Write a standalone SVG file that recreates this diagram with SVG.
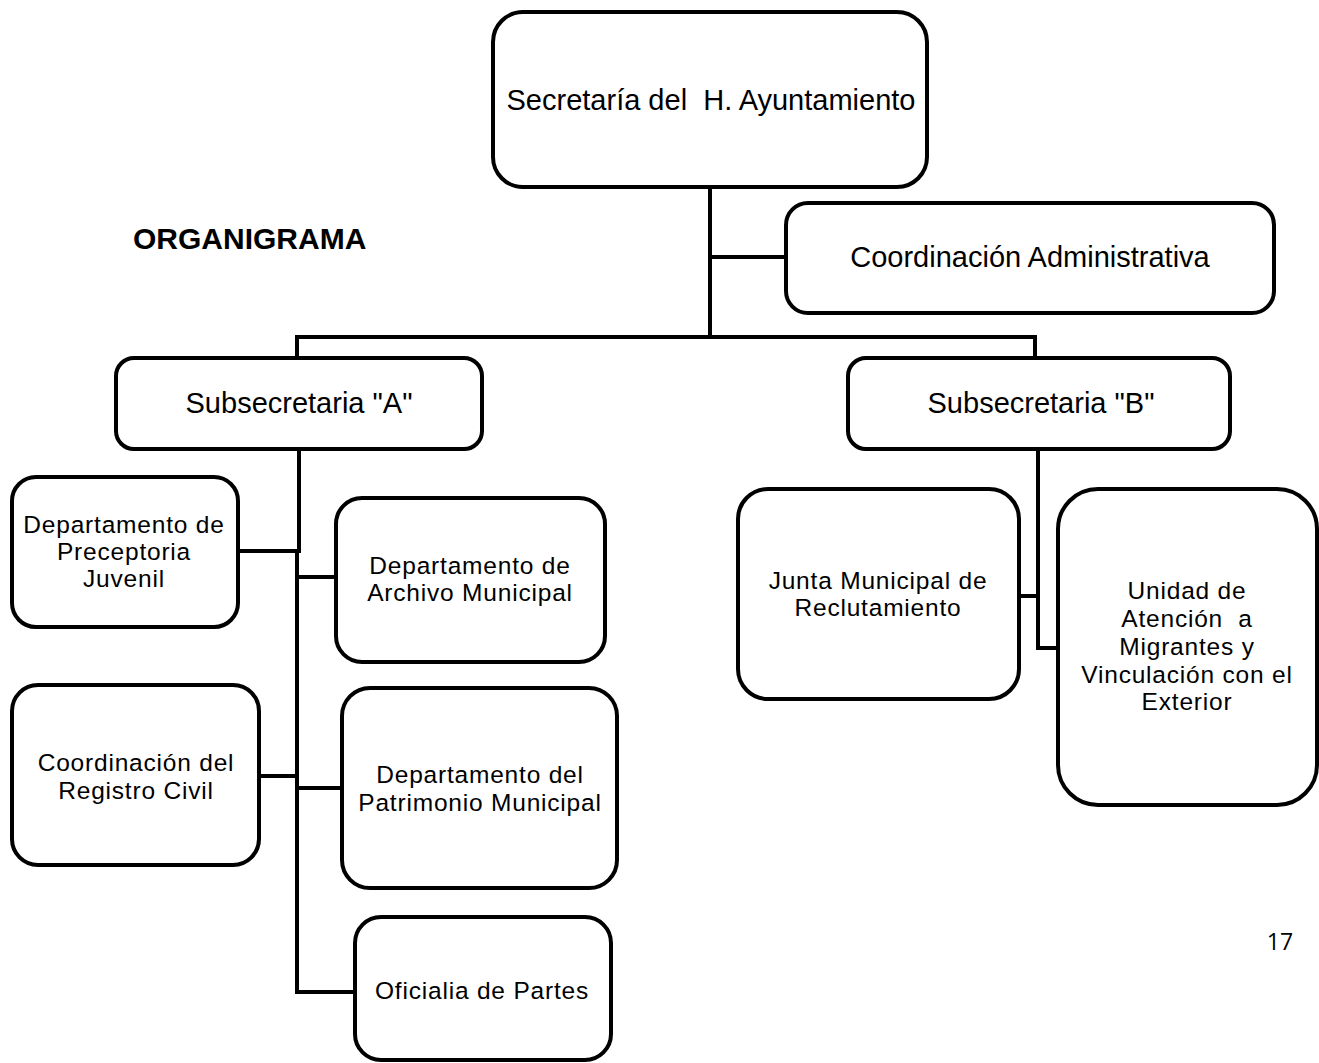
<svg xmlns="http://www.w3.org/2000/svg" width="1319" height="1063" viewBox="0 0 1319 1063">
<style>
.box{fill:#fff;stroke:#000;stroke-width:4}
.ln{fill:none;stroke:#000;stroke-width:4;stroke-linecap:square}
text{font-family:"Liberation Sans",Arial,sans-serif;fill:#000;text-anchor:middle;white-space:pre}
.big{font-size:29px}
.sm{font-size:24.5px;letter-spacing:0.8px}
</style>
<rect width="1319" height="1063" fill="#fff"/>
<g id="connectors">
<path class="ln" d="M710 187V337M710 257H786M297 337H1035M297 337V358M1035 337V358"/>
<path class="ln" d="M299 449V551M297 551V992H355M238 551H299M297 577H336M259 776H297M297 788H342"/>
<path class="ln" d="M1038 449V648H1058M1019 596H1038"/>
</g>
<text x="133" y="249" style="font-size:30px;font-weight:bold;text-anchor:start">ORGANIGRAMA</text>
<g id="secretaria"><rect class="box" x="493" y="12" width="434" height="175" rx="30"/><text class="big" x="711" y="110">Secretaría del  H. Ayuntamiento</text></g>
<g id="coord-admin"><rect class="box" x="786" y="203" width="488" height="110" rx="22"/><text class="big" x="1030" y="267">Coordinación Administrativa</text></g>
<g id="sub-a"><rect class="box" x="116" y="358" width="366" height="91" rx="18"/><text class="big" x="299" y="413">Subsecretaria "A"</text></g>
<g id="sub-b"><rect class="box" x="848" y="358" width="382" height="91" rx="18"/><text class="big" x="1041" y="413">Subsecretaria "B"</text></g>
<g id="preceptoria"><rect class="box" x="12" y="477" width="226" height="150" rx="24"/><text class="sm" x="124"><tspan x="124" y="533">Departamento de</tspan><tspan x="124" y="560">Preceptoria</tspan><tspan x="124" y="587">Juvenil</tspan></text></g>
<g id="archivo"><rect class="box" x="336" y="498" width="269" height="164" rx="26"/><text class="sm"><tspan x="470" y="574">Departamento de</tspan><tspan x="470" y="601">Archivo Municipal</tspan></text></g>
<g id="registro"><rect class="box" x="12" y="685" width="247" height="180" rx="26"/><text class="sm"><tspan x="136" y="771">Coordinación del</tspan><tspan x="136" y="799">Registro Civil</tspan></text></g>
<g id="patrimonio"><rect class="box" x="342" y="688" width="275" height="200" rx="28"/><text class="sm"><tspan x="480" y="783">Departamento del</tspan><tspan x="480" y="811">Patrimonio Municipal</tspan></text></g>
<g id="oficialia"><rect class="box" x="355" y="917" width="256" height="143" rx="26"/><text class="sm" x="482" y="999">Oficialia de Partes</text></g>
<g id="junta"><rect class="box" x="738" y="489" width="281" height="210" rx="30"/><text class="sm"><tspan x="878" y="589">Junta Municipal de</tspan><tspan x="878" y="616">Reclutamiento</tspan></text></g>
<g id="unidad"><rect class="box" x="1058" y="489" width="259" height="316" rx="40"/><text class="sm"><tspan x="1187" y="599">Unidad de</tspan><tspan x="1187" y="627">Atención  a</tspan><tspan x="1187" y="655">Migrantes y</tspan><tspan x="1187" y="683">Vinculación con el</tspan><tspan x="1187" y="710">Exterior</tspan></text></g>
<text x="1280" y="950" style="font-family:'Open Sans','Liberation Sans',sans-serif;font-size:23px">17</text>
</svg>
